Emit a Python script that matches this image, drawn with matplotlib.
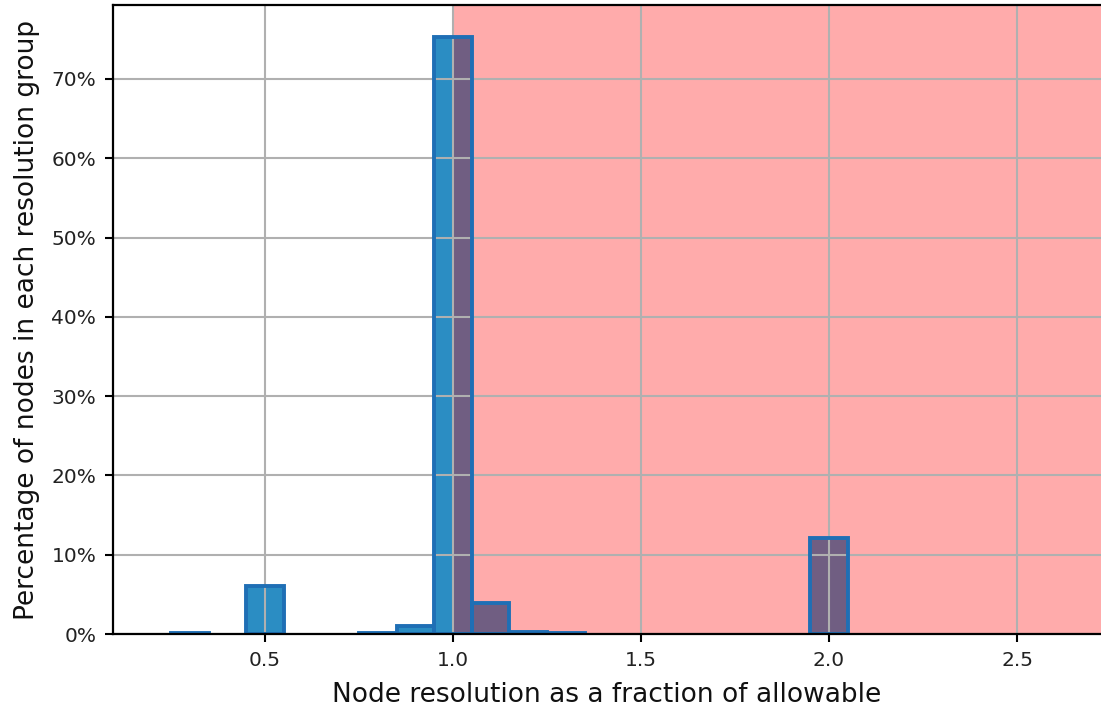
import matplotlib
matplotlib.use("Agg")
import matplotlib.pyplot as plt
from matplotlib.ticker import PercentFormatter

# Data: histogram bin centers (node resolution / allowable) and fraction of nodes
bin_centers = [0.3, 0.5, 0.8, 0.9, 1.0, 1.1, 1.2, 1.3, 2.0]
fractions = [0.001, 0.0605, 0.001, 0.010, 0.753, 0.039, 0.003, 0.001, 0.121]
bin_width = 0.1

x_ticks = [0.5, 1.0, 1.5, 2.0, 2.5]
y_ticks = [0.0, 0.1, 0.2, 0.3, 0.4, 0.5, 0.6, 0.7]

fig = plt.figure(figsize=(11.01, 7.11), dpi=100)
W, H = 1101, 711
ax = fig.add_axes([113 / W, (H - 634) / H, (W - 113) / W, (634 - 5) / H])

fill_color = "#2b8dc3"
edge_color = "#1f6fb5"

# filled bars below the red span
ax.bar(bin_centers, fractions, width=bin_width, color=fill_color,
       edgecolor="none", zorder=1)
# red "over-resolution" region
ax.axvspan(1.0, 3.0, color="red", alpha=0.33, lw=0, zorder=2)
# bar outlines on top
ax.bar(bin_centers, fractions, width=bin_width, fill=False,
       edgecolor=edge_color, linewidth=2.8, zorder=3)

ax.set_xlim(0.0957, 2.7234)
ax.set_ylim(0, 0.7932)
ax.set_xticks(x_ticks)
ax.set_yticks(y_ticks)
ax.yaxis.set_major_formatter(PercentFormatter(1.0, decimals=0))

ax.grid(True, color="#b0b0b0", linewidth=1.5, zorder=4)
ax.set_axisbelow(False)
for gl in ax.get_xgridlines() + ax.get_ygridlines():
    gl.set_zorder(4)

for s in ["left", "bottom", "top"]:
    ax.spines[s].set_linewidth(1.6)
    ax.spines[s].set_color("black")
    ax.spines[s].set_zorder(5)
ax.spines["right"].set_visible(False)

ax.tick_params(axis="both", labelsize=14.5, length=6, width=1.5, colors="black")
ax.tick_params(axis="y", pad=6)
ax.tick_params(axis="x", pad=6)
for lab in ax.get_xticklabels() + ax.get_yticklabels():
    lab.set_color("#222222")

ax.set_xlabel("Node resolution as a fraction of allowable", fontsize=19,
              color="#111111", labelpad=9)
ax.set_ylabel("Percentage of nodes in each resolution group", fontsize=19,
              color="#111111", labelpad=8)

fig.savefig("out.png", dpi=100)
